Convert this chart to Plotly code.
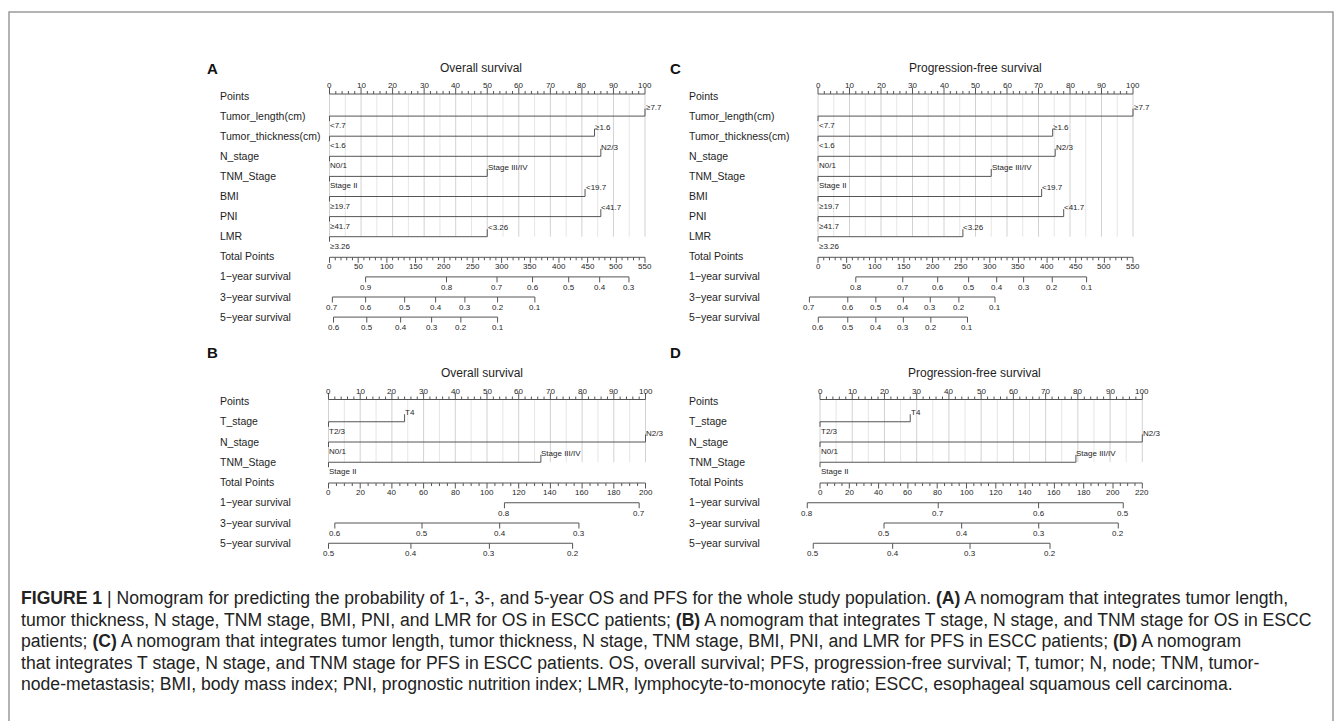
import plotly.graph_objects as go

W, H = 1342, 721

# ---------------- data ----------------
# Panel A - Overall survival, full model
A_vars = ["Tumor_length(cm)", "Tumor_thickness(cm)", "N_stage", "TNM_Stage", "BMI", "PNI", "LMR"]
A_low_labels = ["<7.7", "<1.6", "N0/1", "Stage II", "≥19.7", "≥41.7", "≥3.26"]
A_high_labels = ["≥7.7", "≥1.6", "N2/3", "Stage III/IV", "<19.7", "<41.7", "<3.26"]
A_low_points = [0, 0, 0, 0, 0, 0, 0]
A_high_points = [100, 84, 86, 50, 81, 86, 50]
A_total_ticks = [0, 50, 100, 150, 200, 250, 300, 350, 400, 450, 500, 550]
A_surv1_probs = [0.9, 0.8, 0.7, 0.6, 0.5, 0.4, 0.3]
A_surv1_total = [63, 204, 292, 354, 417, 471, 522]
A_surv3_probs = [0.7, 0.6, 0.5, 0.4, 0.3, 0.2, 0.1]
A_surv3_total = [5, 63, 131, 185, 236, 293, 358]
A_surv5_probs = [0.6, 0.5, 0.4, 0.3, 0.2, 0.1]
A_surv5_total = [7, 65, 124, 178, 229, 293]

# Panel C - Progression-free survival, full model
C_vars = ["Tumor_length(cm)", "Tumor_thickness(cm)", "N_stage", "TNM_Stage", "BMI", "PNI", "LMR"]
C_low_labels = ["<7.7", "<1.6", "N0/1", "Stage II", "≥19.7", "≥41.7", "≥3.26"]
C_high_labels = ["≥7.7", "≥1.6", "N2/3", "Stage III/IV", "<19.7", "<41.7", "<3.26"]
C_low_points = [0, 0, 0, 0, 0, 0, 0]
C_high_points = [100, 74.5, 75.3, 55, 71, 78, 46]
C_total_ticks = [0, 50, 100, 150, 200, 250, 300, 350, 400, 450, 500, 550]
C_surv1_probs = [0.8, 0.7, 0.6, 0.5, 0.4, 0.3, 0.2, 0.1]
C_surv1_total = [66, 148, 209, 263, 312, 359, 409, 469]
C_surv3_probs = [0.7, 0.6, 0.5, 0.4, 0.3, 0.2, 0.1]
C_surv3_total = [-15, 52, 101, 149, 196, 246, 309]
C_surv5_probs = [0.6, 0.5, 0.4, 0.3, 0.2, 0.1]
C_surv5_total = [0.5, 52, 101, 149, 197, 261]

# Panel B - Overall survival, reduced model
B_vars = ["T_stage", "N_stage", "TNM_Stage"]
B_low_labels = ["T2/3", "N0/1", "Stage II"]
B_high_labels = ["T4", "N2/3", "Stage III/IV"]
B_low_points = [0, 0, 0]
B_high_points = [24, 100, 67]
B_total_ticks = [0, 20, 40, 60, 80, 100, 120, 140, 160, 180, 200]
B_surv1_probs = [0.8, 0.7]
B_surv1_total = [111, 196]
B_surv3_probs = [0.6, 0.5, 0.4, 0.3]
B_surv3_total = [4, 59, 108, 158]
B_surv5_probs = [0.5, 0.4, 0.3, 0.2]
B_surv5_total = [0, 52, 101.5, 154]

# Panel D - Progression-free survival, reduced model
D_vars = ["T_stage", "N_stage", "TNM_Stage"]
D_low_labels = ["T2/3", "N0/1", "Stage II"]
D_high_labels = ["T4", "N2/3", "Stage III/IV"]
D_low_points = [0, 0, 0]
D_high_points = [28, 100, 79.4]
D_total_ticks = [0, 20, 40, 60, 80, 100, 120, 140, 160, 180, 200, 220]
D_surv1_probs = [0.8, 0.7, 0.6, 0.5]
D_surv1_total = [-8.7, 80.7, 149.2, 207]
D_surv3_probs = [0.5, 0.4, 0.3, 0.2]
D_surv3_total = [43.7, 96.7, 149.3, 203.6]
D_surv5_probs = [0.5, 0.4, 0.3, 0.2]
D_surv5_total = [-4.6, 49.6, 102.4, 157]

surv_row_labels = ["1−year survival", "3−year survival", "5−year survival"]

caption_lines = [
    "<b>FIGURE 1</b> | Nomogram for predicting the probability of 1-, 3-, and 5-year OS and PFS for the whole study population. <b>(A)</b> A nomogram that integrates tumor length,",
    "tumor thickness, N stage, TNM stage, BMI, PNI, and LMR for OS in ESCC patients; <b>(B)</b> A nomogram that integrates T stage, N stage, and TNM stage for OS in ESCC",
    "patients; <b>(C)</b> A nomogram that integrates tumor length, tumor thickness, N stage, TNM stage, BMI, PNI, and LMR for PFS in ESCC patients; <b>(D)</b> A nomogram",
    "that integrates T stage, N stage, and TNM stage for PFS in ESCC patients. OS, overall survival; PFS, progression-free survival; T, tumor; N, node; TNM, tumor-",
    "node-metastasis; BMI, body mass index; PNI, prognostic nutrition index; LMR, lymphocyte-to-monocyte ratio; ESCC, esophageal squamous cell carcinoma.",
]

# ---------------- layout / style ----------------
FONT = "Liberation Sans, Arial, Helvetica, sans-serif"
CAP_FONT = "Liberation Sans, Arial, sans-serif"
TXT = "#1e1e1e"
LINE = "#555555"
GRID10 = "#d2d2d2"
GRID5 = "#e6e6e6"

Y_TOP = dict(id="y", row0=95.5, step=20.1)
Y_BOT = dict(id="y2", row0=401.0, step=20.25)

panels = [
    dict(letter="A", title="Overall survival", x="x", yax=Y_TOP, px0=329.5, px100=645.0,
         label_px=218, letter_px=(205, 69), title_pts=48, title_py=68,
         vars=A_vars, lowl=A_low_labels, highl=A_high_labels, lowp=A_low_points, highp=A_high_points,
         tticks=A_total_ticks, tminor=10,
         surv=[(A_surv1_probs, A_surv1_total), (A_surv3_probs, A_surv3_total), (A_surv5_probs, A_surv5_total)]),
    dict(letter="C", title="Progression-free survival", x="x2", yax=Y_TOP, px0=818.0, px100=1133.0,
         label_px=687, letter_px=(668, 69), title_pts=50, title_py=68,
         vars=C_vars, lowl=C_low_labels, highl=C_high_labels, lowp=C_low_points, highp=C_high_points,
         tticks=C_total_ticks, tminor=10,
         surv=[(C_surv1_probs, C_surv1_total), (C_surv3_probs, C_surv3_total), (C_surv5_probs, C_surv5_total)]),
    dict(letter="B", title="Overall survival", x="x3", yax=Y_BOT, px0=328.5, px100=645.5,
         label_px=218, letter_px=(205, 352), title_pts=48.5, title_py=373,
         vars=B_vars, lowl=B_low_labels, highl=B_high_labels, lowp=B_low_points, highp=B_high_points,
         tticks=B_total_ticks, tminor=5,
         surv=[(B_surv1_probs, B_surv1_total), (B_surv3_probs, B_surv3_total), (B_surv5_probs, B_surv5_total)]),
    dict(letter="D", title="Progression-free survival", x="x4", yax=Y_BOT, px0=820.0, px100=1142.3,
         label_px=687, letter_px=(668, 352), title_pts=48, title_py=373,
         vars=D_vars, lowl=D_low_labels, highl=D_high_labels, lowp=D_low_points, highp=D_high_points,
         tticks=D_total_ticks, tminor=5,
         surv=[(D_surv1_probs, D_surv1_total), (D_surv3_probs, D_surv3_total), (D_surv5_probs, D_surv5_total)]),
]

segs = {}
annotations = []


def seg(xid, yid, color, width, x0, x1, y0, y1):
    xs, ys = segs.setdefault((xid, yid, color, width), ([], []))
    xs.extend([x0, x1, None])
    ys.extend([y0, y1, None])


def esc(s):
    return s.replace("<", "&lt;")


def txt(text, x, y, xref, yref, size, xanchor="center", yanchor="middle", xshift=0, family=FONT, color=TXT):
    annotations.append(dict(text=text, x=x, y=y, xref=xref, yref=yref, showarrow=False,
                            xanchor=xanchor, yanchor=yanchor, xshift=xshift,
                            font=dict(size=size, color=color, family=family)))


def fmt(v):
    return ("%g" % v)


for p in panels:
    xid = p["x"]
    yid = p["yax"]["id"]
    st = p["yax"]["step"]

    def Y(row, off):
        return row + off / st

    n = len(p["vars"])
    ttot = p["tticks"][-1]

    def T(tp):
        return tp * 100.0 / ttot

    # grid lines (every 5 points)
    for v in range(0, 101, 5):
        seg(xid, yid, GRID10 if v % 10 == 0 else GRID5, 1, v, v, Y(0, -1.5), Y(n, 0.5))

    # Points axis
    txt("Points", p["label_px"] / W, 0, "paper", yid, 10.5, xanchor="left")
    seg(xid, yid, LINE, 1, 0, 100, Y(0, -1.5), Y(0, -1.5))
    for v in range(0, 101, 2):
        major = v % 10 == 0
        seg(xid, yid, LINE, 1, v, v, Y(0, -1.5), Y(0, -8 if major else -4.5))
        if major:
            txt(str(v), v, Y(0, -10), xid, yid, 8)

    # variable rows
    for i in range(n):
        r = i + 1
        txt(p["vars"][i], p["label_px"] / W, r, "paper", yid, 10.5, xanchor="left")
        lo, hi = p["lowp"][i], p["highp"][i]
        seg(xid, yid, LINE, 1, lo, hi, Y(r, 0.5), Y(r, 0.5))
        seg(xid, yid, LINE, 1, lo, lo, Y(r, 0.5), Y(r, 5.5))
        seg(xid, yid, LINE, 1, hi, hi, Y(r, 0.5), Y(r, -7))
        txt(esc(p["lowl"][i]), lo, Y(r, 10), xid, yid, 8, xanchor="left", xshift=-1.5)
        txt(esc(p["highl"][i]), hi, Y(r, -8.5), xid, yid, 8, xanchor="left", xshift=-1.5)

    # Total points axis
    rt = n + 1
    txt("Total Points", p["label_px"] / W, rt, "paper", yid, 10.5, xanchor="left")
    seg(xid, yid, LINE, 1, T(0), T(ttot), Y(rt, 1), Y(rt, 1))
    v = 0
    mstep = p["tticks"][1] - p["tticks"][0]
    while v <= ttot + 1e-9:
        major = abs(v / mstep - round(v / mstep)) < 1e-9
        seg(xid, yid, LINE, 1, T(v), T(v), Y(rt, 1), Y(rt, 6.5 if major else 4))
        v += p["tminor"]
    for tv in p["tticks"]:
        txt(str(tv), T(tv), Y(rt, 10.5), xid, yid, 8)

    # survival rows
    for j, (probs, tots) in enumerate(p["surv"]):
        r = n + 2 + j
        txt(surv_row_labels[j], p["label_px"] / W, r, "paper", yid, 10.5, xanchor="left")
        seg(xid, yid, LINE, 1, T(min(tots)), T(max(tots)), Y(r, 0.5), Y(r, 0.5))
        for pr, tv in zip(probs, tots):
            seg(xid, yid, LINE, 1, T(tv), T(tv), Y(r, 0.5), Y(r, 6))
            txt(fmt(pr), T(tv), Y(r, 11), xid, yid, 8)

    # title & letter
    txt(p["title"], p["title_pts"], 1 - p["title_py"] / H, xid, "paper", 12)
    annotations.append(dict(text="<b>%s</b>" % p["letter"], x=p["letter_px"][0] / W, y=1 - p["letter_px"][1] / H,
                            xref="paper", yref="paper", showarrow=False, xanchor="left", yanchor="middle",
                            font=dict(size=15, color="#111111", family=FONT)))

fig = go.Figure()
for (xid, yid, color, width), (xs, ys) in segs.items():
    fig.add_trace(go.Scatter(x=xs, y=ys, xaxis=xid, yaxis=yid, mode="lines",
                             line=dict(color=color, width=width), hoverinfo="skip", showlegend=False))

# caption
for k, line in enumerate(caption_lines):
    annotations.append(dict(text=line, x=19 / W, y=1 - (598 + 21.5 * k) / H, xref="paper", yref="paper",
                            showarrow=False, xanchor="left", yanchor="middle",
                            font=dict(size=17.6, color="#222222", family=CAP_FONT)))

axes = {}
for p in panels:
    sc = (p["px100"] - p["px0"]) / 100.0
    key = "xaxis" + p["x"][1:]
    axes[key] = dict(domain=[0, 1], range=[-p["px0"] / sc, (W - p["px0"]) / sc], visible=False,
                     fixedrange=True, anchor=p["yax"]["id"])
for ya in (Y_TOP, Y_BOT):
    key = "yaxis" + ya["id"][1:]
    axes[key] = dict(domain=[0, 1], range=[(H - ya["row0"]) / ya["step"], -ya["row0"] / ya["step"]],
                     visible=False, fixedrange=True, anchor="x")

fig.update_layout(
    width=W, height=H, margin=dict(l=0, r=0, t=0, b=0),
    paper_bgcolor="white", plot_bgcolor="rgba(0,0,0,0)",
    showlegend=False, annotations=annotations,
    shapes=[dict(type="rect", xref="paper", yref="paper", x0=9 / W, x1=1333 / W, y0=-0.05, y1=1 - 12 / H,
                 line=dict(color="#9a9a9a", width=1.5), fillcolor="rgba(0,0,0,0)", layer="below")],
    **axes,
)

fig.write_html("out.html", config={"displayModeBar": False})
